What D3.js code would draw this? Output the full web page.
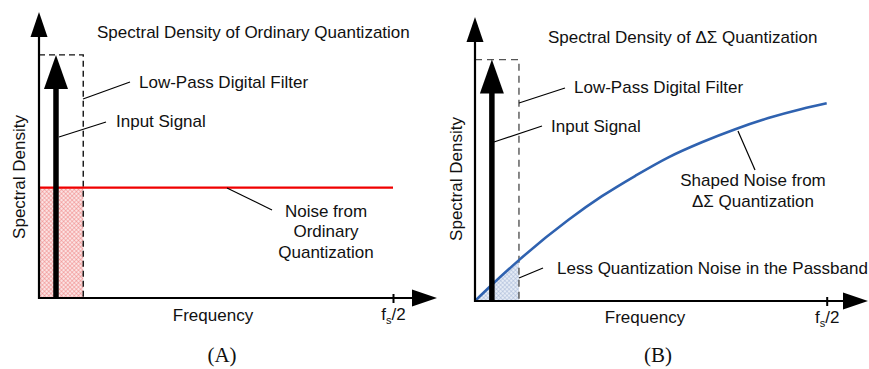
<!DOCTYPE html>
<html><head><meta charset="utf-8">
<script src="https://cdn.jsdelivr.net/npm/d3@7"></script>
<style>
body{margin:0;background:#fff}
text{font-family:"Liberation Sans",Arial,sans-serif;font-size:17px;fill:#111}
.cap{font-family:"Liberation Serif","Times New Roman",serif;font-size:21px}
</style>
</head><body><svg id="c" width="869" height="369"></svg>
<script>
// ---------- data (frequency as fraction of fs/2, density in relative units) ----------
const passbandEdge = 0.125;          // low-pass digital filter cut-off
const filterGain = 0.85;             // dashed filter height
const signalFreq = 0.048;            // input tone frequency
const signalLevel = 0.85;            // input tone height
const ordinaryNoiseLevel = 0.386;    // flat quantization noise (panel A)
const ordinaryNoiseFreq = [0, 1];
const shapedNoiseFreq  = [0, 0.048, 0.125, 0.266, 0.361, 0.456, 0.550, 0.645, 0.740, 0.834, 0.929, 1.0];
const shapedNoiseLevel = [0, 0.057, 0.144, 0.286, 0.369, 0.441, 0.506, 0.559, 0.605, 0.644, 0.676, 0.696];
const tickValues = [1];
const tickLabelMain = "f", tickLabelSub = "s", tickLabelTail = "/2";
const panelCaptions = ["(A)", "(B)"];
const panelTitles = ["Spectral Density of Ordinary Quantization", "Spectral Density of \u0394\u03a3 Quantization"];
const xAxisLabel = "Frequency", yAxisLabel = "Spectral Density";

// ---------- layout ----------
const layouts = [
  {x0:39, x1:393, yB:298, yT:12, tipX:437, dash:"#111", dashArr:"6,4", hatch:"hA",
   title:[97,32], cap:[222,355], ylab:[19,177], xlab:[213,315], tickLab:16,
   lpf:{t:[139,82], l:[83,99,130,82]}, inp:{t:[116,121], l:[59,137,106,122]},
   noise:{lines:["Noise from","Ordinary","Quantization"], c:[326,211], dy:20.5, l:[227,188,272,210]}},
  {x0:475, x1:826.7, yB:301, yT:17, tipX:868, dash:"#555", dashArr:"7,5", hatch:"hB",
   title:[548,37], cap:[658,355], ylab:[456,179], xlab:[645,317], tickLab:16,
   lpf:{t:[574,87], l:[519,103,565,88]}, inp:{t:[551,126], l:[494,142,542,126]},
   noise:{lines:["Shaped Noise from","\u0394\u03a3 Quantization"], c:[753,180], dy:21, l:[738,131,755,170]},
   less:{t:[557,268], l:[519,278,543,268], s:"Less Quantization Noise in the Passband"}}
];

const svg = d3.select("#c");
const defs = svg.append("defs");
function hatch(id, bg, col){
  const p = defs.append("pattern").attr("id",id).attr("patternUnits","userSpaceOnUse")
    .attr("width",3).attr("height",3).attr("patternTransform","rotate(45)");
  p.append("rect").attr("width",3).attr("height",3).attr("fill",bg);
  p.append("line").attr("x1",0).attr("y1",0).attr("x2",0).attr("y2",3).attr("stroke",col).attr("stroke-width",0.9);
  p.append("line").attr("x1",0).attr("y1",0).attr("x2",3).attr("y2",0).attr("stroke",col).attr("stroke-width",0.9);
}
hatch("hA", "#fbe3e3", "#ee7b7b");
hatch("hB", "#e6ecf6", "#9fb2d3");

layouts.forEach((L, i) => {
  const g = svg.append("g");
  const x = d3.scaleLinear().domain([0,1]).range([L.x0, L.x1]);
  const y = d3.scaleLinear().domain([0,1]).range([L.yB, L.yT]);

  // noise fill in passband
  if (i === 0) {
    g.append("rect").attr("x", x(0)).attr("y", y(ordinaryNoiseLevel))
      .attr("width", x(passbandEdge)-x(0)).attr("height", y(0)-y(ordinaryNoiseLevel))
      .attr("fill", "url(#hA)");
  } else {
    const pts = shapedNoiseFreq.map((f,k)=>[f, shapedNoiseLevel[k]]).filter(p=>p[0] <= passbandEdge);
    g.append("path").datum(pts).attr("fill","url(#hB)")
      .attr("d", d3.area().x(d=>x(d[0])).y0(y(0)).y1(d=>y(d[1])).curve(d3.curveMonotoneX));
  }

  // filter (dashed)
  g.append("path").attr("fill","none").attr("stroke",L.dash).attr("stroke-width",1.4)
    .attr("stroke-dasharray",L.dashArr)
    .attr("d", d3.line()([[x(0),y(filterGain)],[x(passbandEdge),y(filterGain)],[x(passbandEdge),y(0)]]));

  // noise curve
  if (i === 0) {
    g.append("path").attr("fill","none").attr("stroke","#f00000").attr("stroke-width",2.4)
      .attr("d", d3.line()(ordinaryNoiseFreq.map(f=>[x(f), y(ordinaryNoiseLevel)])));
  } else {
    g.append("path").datum(shapedNoiseFreq.map((f,k)=>[f, shapedNoiseLevel[k]]))
      .attr("fill","none").attr("stroke","#2f62b0").attr("stroke-width",2.6)
      .attr("d", d3.line().x(d=>x(d[0])).y(d=>y(d[1])).curve(d3.curveMonotoneX));
  }

  // input signal arrow
  const sx = x(signalFreq), tip = y(signalLevel), head = 34, hw = 12;
  g.append("line").attr("x1",sx).attr("x2",sx).attr("y1",y(0)).attr("y2",tip+head-1)
    .attr("stroke","#000").attr("stroke-width",5.5);
  g.append("path").attr("fill","#000")
    .attr("d", d3.line()([[sx,tip],[sx-hw,tip+head],[sx+hw,tip+head]]) + "Z");

  // axes lines with arrowheads
  g.append("line").attr("x1",x(0)).attr("x2",x(0)).attr("y1",y(0)+1).attr("y2",L.yT+20)
    .attr("stroke","#000").attr("stroke-width",2.2);
  g.append("path").attr("fill","#000")
    .attr("d", d3.line()([[x(0),L.yT],[x(0)-8.5,L.yT+25],[x(0)+8.5,L.yT+25]])+"Z");
  g.append("line").attr("x1",x(0)-1).attr("x2",L.tipX-20).attr("y1",y(0)).attr("y2",y(0))
    .attr("stroke","#000").attr("stroke-width",2.2);
  g.append("path").attr("fill","#000")
    .attr("d", d3.line()([[L.tipX,y(0)],[L.tipX-25,y(0)-8.5],[L.tipX-25,y(0)+8.5]])+"Z");

  // fs/2 tick via d3 axis
  const ax = g.append("g").attr("transform",`translate(0,${y(0)})`)
    .call(d3.axisBottom(x).tickValues(tickValues).tickSizeOuter(0).tickFormat(""));
  ax.select(".domain").remove();
  ax.selectAll(".tick line").attr("y1",-4).attr("y2",5).attr("stroke","#000").attr("stroke-width",2);
  ax.selectAll(".tick text").remove();
  ax.selectAll(".tick").append("text").attr("text-anchor","middle").attr("y",L.tickLab).attr("dy","0.35em")
    .attr("fill","#111").style("font-size","17px")
    .call(t=>{ t.append("tspan").text(tickLabelMain);
               t.append("tspan").text(tickLabelSub).style("font-size","11px").attr("dy","4");
               t.append("tspan").text(tickLabelTail).attr("dy","-4"); });

  // texts
  const txt = (p, s, anchor="start") => g.append("text").attr("x",p[0]).attr("y",p[1]).attr("dy","0.35em")
    .attr("text-anchor",anchor).text(s);
  const lead = l => g.append("line").attr("x1",l[0]).attr("y1",l[1]).attr("x2",l[2]).attr("y2",l[3])
    .attr("stroke","#000").attr("stroke-width",1.2);
  txt(L.title, panelTitles[i]);
  txt(L.lpf.t, "Low-Pass Digital Filter"); lead(L.lpf.l);
  txt(L.inp.t, "Input Signal"); lead(L.inp.l);
  L.noise.lines.forEach((s,k)=>txt([L.noise.c[0], L.noise.c[1]+k*L.noise.dy], s, "middle"));
  lead(L.noise.l);
  if (L.less) { txt(L.less.t, L.less.s); lead(L.less.l); }
  txt(L.xlab, xAxisLabel, "middle");
  g.append("text").attr("transform",`translate(${L.ylab[0]},${L.ylab[1]}) rotate(-90)`)
    .attr("dy","0.35em").attr("text-anchor","middle").text(yAxisLabel);
  g.append("text").attr("class","cap").attr("x",L.cap[0]).attr("y",L.cap[1]).attr("dy","0.35em")
    .attr("text-anchor","middle").text(panelCaptions[i]);
});
</script>
</body></html>
